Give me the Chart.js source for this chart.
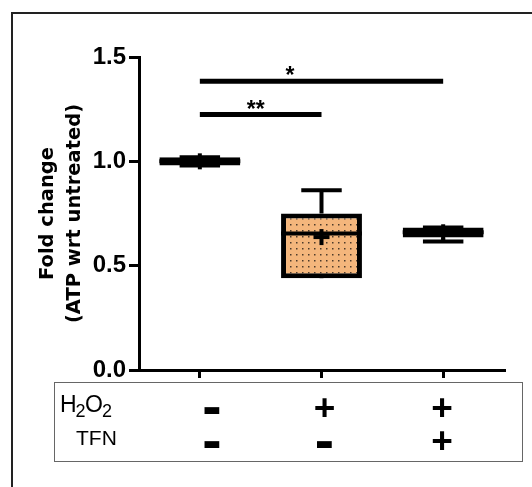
<!DOCTYPE html>
<html>
<head>
<meta charset="utf-8">
<script src="https://cdn.jsdelivr.net/npm/chart.js@4.4.1/dist/chart.umd.min.js"></script>
<style>
  html, body { margin: 0; padding: 0; background: #fff; }
  canvas { display: block; }
</style>
</head>
<body>
<canvas id="grafico" width="532" height="487"></canvas>
<script>
// groups: untreated, H2O2, H2O2 + TFN
const categories = ['Untreated', 'H2O2', 'H2O2 + TFN'];
const whiskerLow = [0.98, 0.45, 0.616];
const boxQ1 = [0.98, 0.44, 0.635];
const medians = [1.0, 0.654, 0.66];
const boxQ3 = [1.02, 0.75, 0.683];
const whiskerHigh = [1.02, 0.862, 0.683];
const means = [1.0, 0.637, 0.66];

const yTickValues = [0, 0.5, 1.0, 1.5];
const yTitle = ['Fold change', '(ATP wrt untreated)'];

// significance brackets
const sigPairs = [[0, 1], [0, 2]];
const sigHeights = [1.224, 1.384];
const sigMarks = ['**', '*'];

// treatment table under the x axis
const rowH2O2 = ['-', '+', '+'];
const rowTFN = ['-', '-', '+'];

const dotPattern = (() => {
    const c = document.createElement('canvas');
    c.width = 6;
    c.height = 6;
    const g = c.getContext('2d');
    g.fillStyle = '#f4b67c';
    g.fillRect(0, 0, 6, 6);
    g.fillStyle = '#4d3b2a';
    g.fillRect(2, 2, 1.5, 1.5);
    return g.createPattern(c, 'repeat');
})();

function seg(ctx, x1, y1, x2, y2) {
    ctx.beginPath();
    ctx.moveTo(x1, y1);
    ctx.lineTo(x2, y2);
    ctx.stroke();
}

const boxExtras = {
    id: 'boxExtras',
    afterDatasetsDraw(chart, args, opts) {
        const { ctx, scales: { x, y } } = chart;
        const meta = chart.getDatasetMeta(0);
        ctx.save();
        ctx.strokeStyle = '#000';
        ctx.lineCap = 'butt';

        categories.forEach((_, i) => {
            const cx = x.getPixelForValue(i);
            const half = meta.data[i].width / 2;
            const cap = half / 2;
            ctx.lineWidth = 4;

            // whiskers + caps
            const yHi = y.getPixelForValue(whiskerHigh[i]);
            const yLo = y.getPixelForValue(whiskerLow[i]);
            seg(ctx, cx, y.getPixelForValue(boxQ3[i]), cx, yHi);
            seg(ctx, cx, y.getPixelForValue(boxQ1[i]), cx, yLo);
            seg(ctx, cx - cap, yHi, cx + cap, yHi);
            seg(ctx, cx - cap, yLo, cx + cap, yLo);

            // median
            const yMed = y.getPixelForValue(medians[i]);
            seg(ctx, cx - half, yMed, cx + half, yMed);

            // mean "+"
            const yMean = y.getPixelForValue(means[i]);
            seg(ctx, cx - 8, yMean, cx + 8, yMean);
            seg(ctx, cx, yMean - 8, cx, yMean + 8);
        });

        // significance bars
        ctx.lineWidth = 5;
        ctx.fillStyle = '#000';
        ctx.font = 'bold 23px "Liberation Sans", Arial';
        ctx.textAlign = 'center';
        ctx.textBaseline = 'alphabetic';
        sigPairs.forEach(([a, b], k) => {
            const x1 = x.getPixelForValue(a);
            const x2 = x.getPixelForValue(b);
            const yy = y.getPixelForValue(sigHeights[k]);
            seg(ctx, x1, yy, x2, yy);
            ctx.fillText(sigMarks[k], x1 + (x2 - x1) * opts.markShift[k], yy + 2);
        });
        ctx.restore();
    }
};

const tableAndFrame = {
    id: 'tableAndFrame',
    afterDraw(chart, args, opts) {
        const { ctx, scales: { x } } = chart;
        ctx.save();

        // outer frame (top + left only)
        ctx.strokeStyle = '#222';
        ctx.lineWidth = 2;
        seg(ctx, 12, 13, 532, 13);
        seg(ctx, 12, 12, 12, 487);

        // table box
        ctx.strokeStyle = '#666';
        ctx.lineWidth = 1;
        ctx.strokeRect(54.5, 382.5, 468, 79);

        ctx.fillStyle = '#000';
        ctx.textBaseline = 'alphabetic';
        ctx.textAlign = 'left';

        // H2O2 with subscripts
        let px = 60;
        [['H', false], ['2', true], ['O', false], ['2', true]].forEach(([t, sub]) => {
            ctx.font = sub ? '18px "Liberation Sans", Arial' : '23px "Liberation Sans", Arial';
            ctx.fillText(t, px, sub ? 417 : 411.5);
            px += ctx.measureText(t).width - (sub ? 0.5 : 1);
        });
        ctx.font = '21px "Liberation Sans", Arial';
        ctx.fillText('TFN', 76, 445);

        ctx.textAlign = 'center';
        [rowH2O2, rowTFN].forEach((row, r) => {
            row.forEach((s, i) => {
                const cx = x.getPixelForValue(i) + opts.signShift[i];
                if (s === '+') {
                    ctx.font = 'bold 37px "Liberation Sans", Arial';
                    ctx.fillText('+', cx, opts.plusBase[r]);
                } else {
                    ctx.font = 'bold 58px "Liberation Sans", Arial';
                    ctx.fillText('-', cx, opts.minusBase[r]);
                }
            });
        });
        ctx.restore();
    }
};

new Chart(document.getElementById('grafico'), {
    type: 'bar',
    data: {
        labels: categories,
        datasets: [{
            data: categories.map((_, i) => [boxQ1[i], boxQ3[i]]),
            backgroundColor: dotPattern,
            borderColor: '#000',
            borderWidth: 5,
            borderSkipped: false,
            barPercentage: 0.665,
            categoryPercentage: 1
        }]
    },
    options: {
        responsive: false,
        animation: false,
        layout: { padding: { top: 57, right: 28, bottom: 0, left: 0 } },
        plugins: {
            legend: { display: false },
            tooltip: { enabled: false },
            boxExtras: { markShift: [0.46, 0.37] },
            tableAndFrame: {
                signShift: [12, 3, -1],
                plusBase: [419.5, 452.5],
                minusBase: [426, 459.5]
            }
        },
        scales: {
            x: {
                afterFit: s => { s.height = 117; },
                grid: { offset: false, drawOnChartArea: false, color: '#000', lineWidth: 3, tickLength: 8 },
                border: { color: '#000', width: 3 },
                ticks: { display: false }
            },
            y: {
                min: 0,
                max: 1.5,
                afterFit: s => { s.width = 139; },
                afterBuildTicks: s => { s.ticks = yTickValues.map(v => ({ value: v })); },
                grid: { drawOnChartArea: false, color: '#000', lineWidth: 3, tickLength: 10 },
                border: { color: '#000', width: 3 },
                ticks: {
                    color: '#000',
                    padding: 3,
                    font: { family: '"Liberation Sans", Arial', size: 24, weight: 'bold' },
                    callback: v => Number(v).toFixed(1)
                },
                title: {
                    display: true,
                    text: yTitle,
                    color: '#000',
                    padding: { top: 35, bottom: 0 },
                    font: { family: '"DejaVu Sans"', size: 19.5, weight: 'bold', lineHeight: 1.37 }
                }
            }
        }
    },
    plugins: [boxExtras, tableAndFrame]
});
</script>
</body>
</html>
